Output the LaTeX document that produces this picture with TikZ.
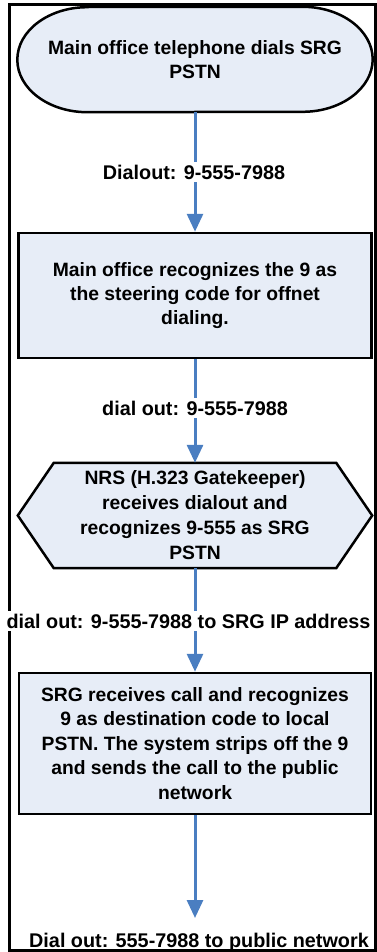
\documentclass[tikz,border=0pt]{standalone}
\usepackage{fontspec}
\setmainfont{Liberation Sans}
\usetikzlibrary{arrows.meta,backgrounds,calc}
\definecolor{boxfill}{RGB}{231,237,247}
\definecolor{arrowblue}{RGB}{74,126,193}
\tikzset{
  every node/.style={font=\bfseries\fontsize{19.3}{24}\selectfont},
  boxtext/.style={align=center, inner sep=0pt},
  rectbox/.style={draw=black, line width=2.5pt, fill=boxfill, align=center, inner sep=0pt},
  shapeline/.style={draw=black, line width=2.5pt, fill=boxfill},
  frameline/.style={draw=black, line width=3pt},
  flow/.style={draw=arrowblue, line width=3pt, -{Triangle[width=16pt,length=18pt]}},
  lab/.style={fill=white, inner sep=3pt, anchor=base, font=\bfseries\fontsize{19.8}{24}\selectfont},
}
\begin{document}
\begin{tikzpicture}[x=1pt,y=-1pt]
\useasboundingbox (0,0) rectangle (377,952);

% nodes
\node[boxtext, minimum width=355pt, minimum height=105pt] (start) at (195,59.5)
  {Main office telephone dials SRG\\PSTN};
\node[rectbox, minimum width=353pt, minimum height=125pt] (recog) at (195,295.5)
  {Main office recognizes the 9 as\\the steering code for offnet\\dialing.};
\node[boxtext, minimum width=282pt, minimum height=105pt,
      font=\bfseries\fontsize{19.3}{25}\selectfont] (gk) at (195,515.5)
  {NRS (H.323 Gatekeeper)\\receives dialout and\\recognizes 9-555 as SRG\\PSTN};
\node[rectbox, minimum width=352pt, minimum height=141pt,
      font=\bfseries\fontsize{19.3}{24.5}\selectfont] (srg) at (195,743.5)
  {SRG receives call and recognizes\\9 as destination code to local\\PSTN. The system strips off the 9\\and sends the call to the public\\network};
\coordinate (tip) at (195,918);

% frame and custom shapes behind
\begin{scope}[on background layer]
  \draw[frameline] (9,5) rectangle (375,950);
  \draw[shapeline] ($(start.north west)+(70,0)$) -- ($(start.north east)+(-70,0)$)
    arc[start angle=-90, end angle=90, x radius=70, y radius=52.5]
    -- ($(start.south west)+(70,0)$)
    arc[start angle=90, end angle=270, x radius=70, y radius=52.5] -- cycle;
  \draw[shapeline] (gk.north west) -- (gk.north east) -- ($(gk.east)+(36,0)$)
    -- (gk.south east) -- (gk.south west) -- ($(gk.west)+(-36,0)$) -- cycle;
\end{scope}

% connectors
\draw[flow] (start.south) -- (recog.north);
\draw[flow] (recog.south) -- (gk.north);
\draw[flow] (gk.south) -- (srg.north);
\draw[flow] (srg.south) -- (tip);

% labels
\node[lab] (l1) at (194,179) {Dialout: 9-555-7988};
\node[lab] (l2) at (195,415) {dial out: 9-555-7988};
\node[lab, inner xsep=1pt] (l3) at (188.5,628) {dial out: 9-555-7988 to SRG IP address};
\node[lab, fill=none] (l4) at (199,947) {Dial out: 555-7988 to public network};
\end{tikzpicture}
\end{document}
